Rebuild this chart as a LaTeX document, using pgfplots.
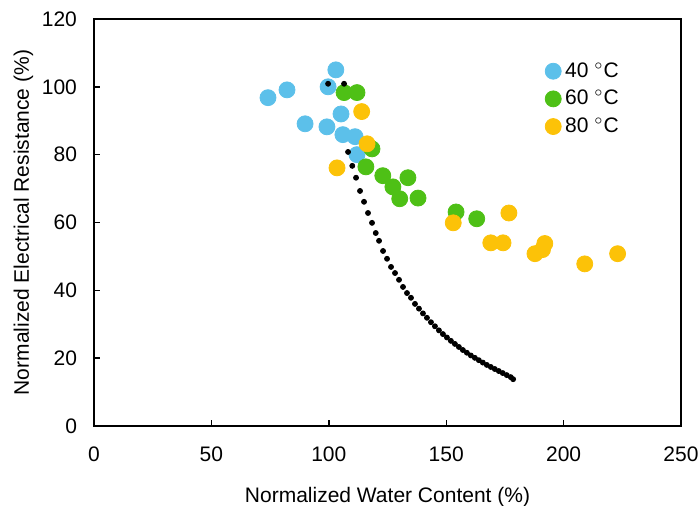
\documentclass[border=0pt]{standalone}
\usepackage{fontspec}
\setmainfont{Liberation Sans}
\usepackage{pgfplots}
\pgfplotsset{compat=1.18}

\definecolor{c40}{RGB}{92,192,234}
\definecolor{c60}{RGB}{78,192,22}
\definecolor{c80}{RGB}{252,194,8}

\begin{document}
\begin{tikzpicture}
\begin{axis}[
  scale only axis, width=293.5pt, height=203.5pt,
  xmin=0, xmax=250, ymin=0, ymax=120,
  xtick={0,50,...,250}, ytick={0,20,...,120},
  xtick pos=bottom, ytick pos=left, tick align=inside,
  major tick length=3pt,
  axis line style={line width=0.8pt}, tick style={line width=0.7pt, black},
  /pgf/number format/assume math mode=true,
  tick label style={font=\fontsize{10.5}{12}\selectfont},
  yticklabel style={xshift=-5pt},
  xticklabel style={yshift=-7pt},
  label style={font=\fontsize{10.5}{12}\selectfont},
  xlabel={Normalized Water Content (\%)},
  ylabel={Normalized Electrical Resistance (\%)},
  xlabel style={yshift=-6pt},
  ylabel style={yshift=-2.5pt},
  legend style={draw=none, fill=none, at={(axis cs:192,108.5)}, anchor=north west,
    font=\fontsize{10.5}{12}\selectfont, row sep=1pt, inner sep=0pt},
  legend cell align=left,
  legend image code/.code={\draw[#1] plot coordinates {(0.1cm,0cm)};},
]
\addplot[only marks, mark=*, mark size=4pt, mark options={draw=c40, fill=c40}] coordinates {
(74.1,96.8) (82.2,99.1) (89.9,89.1) (99.2,88.2) (99.7,100) (103,105)
(105.2,92) (106,85.9) (111.2,85.3) (112,80)
};
\addlegendentry{40 $^{\circ}$C}
\addplot[only marks, mark=*, mark size=4pt, mark options={draw=c60, fill=c60}] coordinates {
(106.5,98.3) (112,98.3) (118.4,81.7) (115.8,76.4) (123,73.8) (127.3,70.5)
(133.7,73.2) (130.2,67) (138,67.2) (154.2,63.1) (163,61.1)
};
\addlegendentry{60 $^{\circ}$C}
\addplot[only marks, mark=*, mark size=4pt, mark options={draw=c80, fill=c80}] coordinates {
(114,92.7) (116.3,83.2) (103.5,76.1) (153,59.9) (176.7,62.8) (169,54)
(174.2,54) (192,53.8) (191,52) (187.8,50.8) (209,47.8) (223,50.8)
};
\addlegendentry{80 $^{\circ}$C}
\addplot[only marks, mark=*, mark size=1.25pt, mark options={draw=black, fill=black}, forget plot] coordinates {
(99.7,100.9) (106.5,100.9)
(108.2,80.8) (110,76.7) (111.6,73.2) (113.3,69.3) (115,66.1) (116.7,62.8)
(118.4,59.9) (120,56.9) (121.4,54.6) (123.1,51.6) (124.8,49.3) (126.5,46.9)
(128.2,45.1) (129.9,43.1) (131.6,41) (133.3,39.2) (135,37.8) (136.7,36)
(138.4,34.6) (140.1,33.2) (141.8,31.9) (143.5,30.6) (145.2,29.4) (146.9,28.2)
(148.6,27.1) (150.3,26.1) (152,25.1) (153.7,24.2) (155.4,23.3) (157.1,22.4)
(158.8,21.6) (160.5,20.8) (162.2,20.1) (163.9,19.4) (165.6,18.7) (167.3,18.0)
(169,17.4) (170.7,16.8) (172.4,16.2) (174.1,15.6) (175.8,15.0) (177.5,14.4)
(178.5,13.8)
};
\end{axis}
\pgfresetboundingbox
\path (-47pt,-40pt) rectangle (302.5pt,213pt);
\end{tikzpicture}
\end{document}
